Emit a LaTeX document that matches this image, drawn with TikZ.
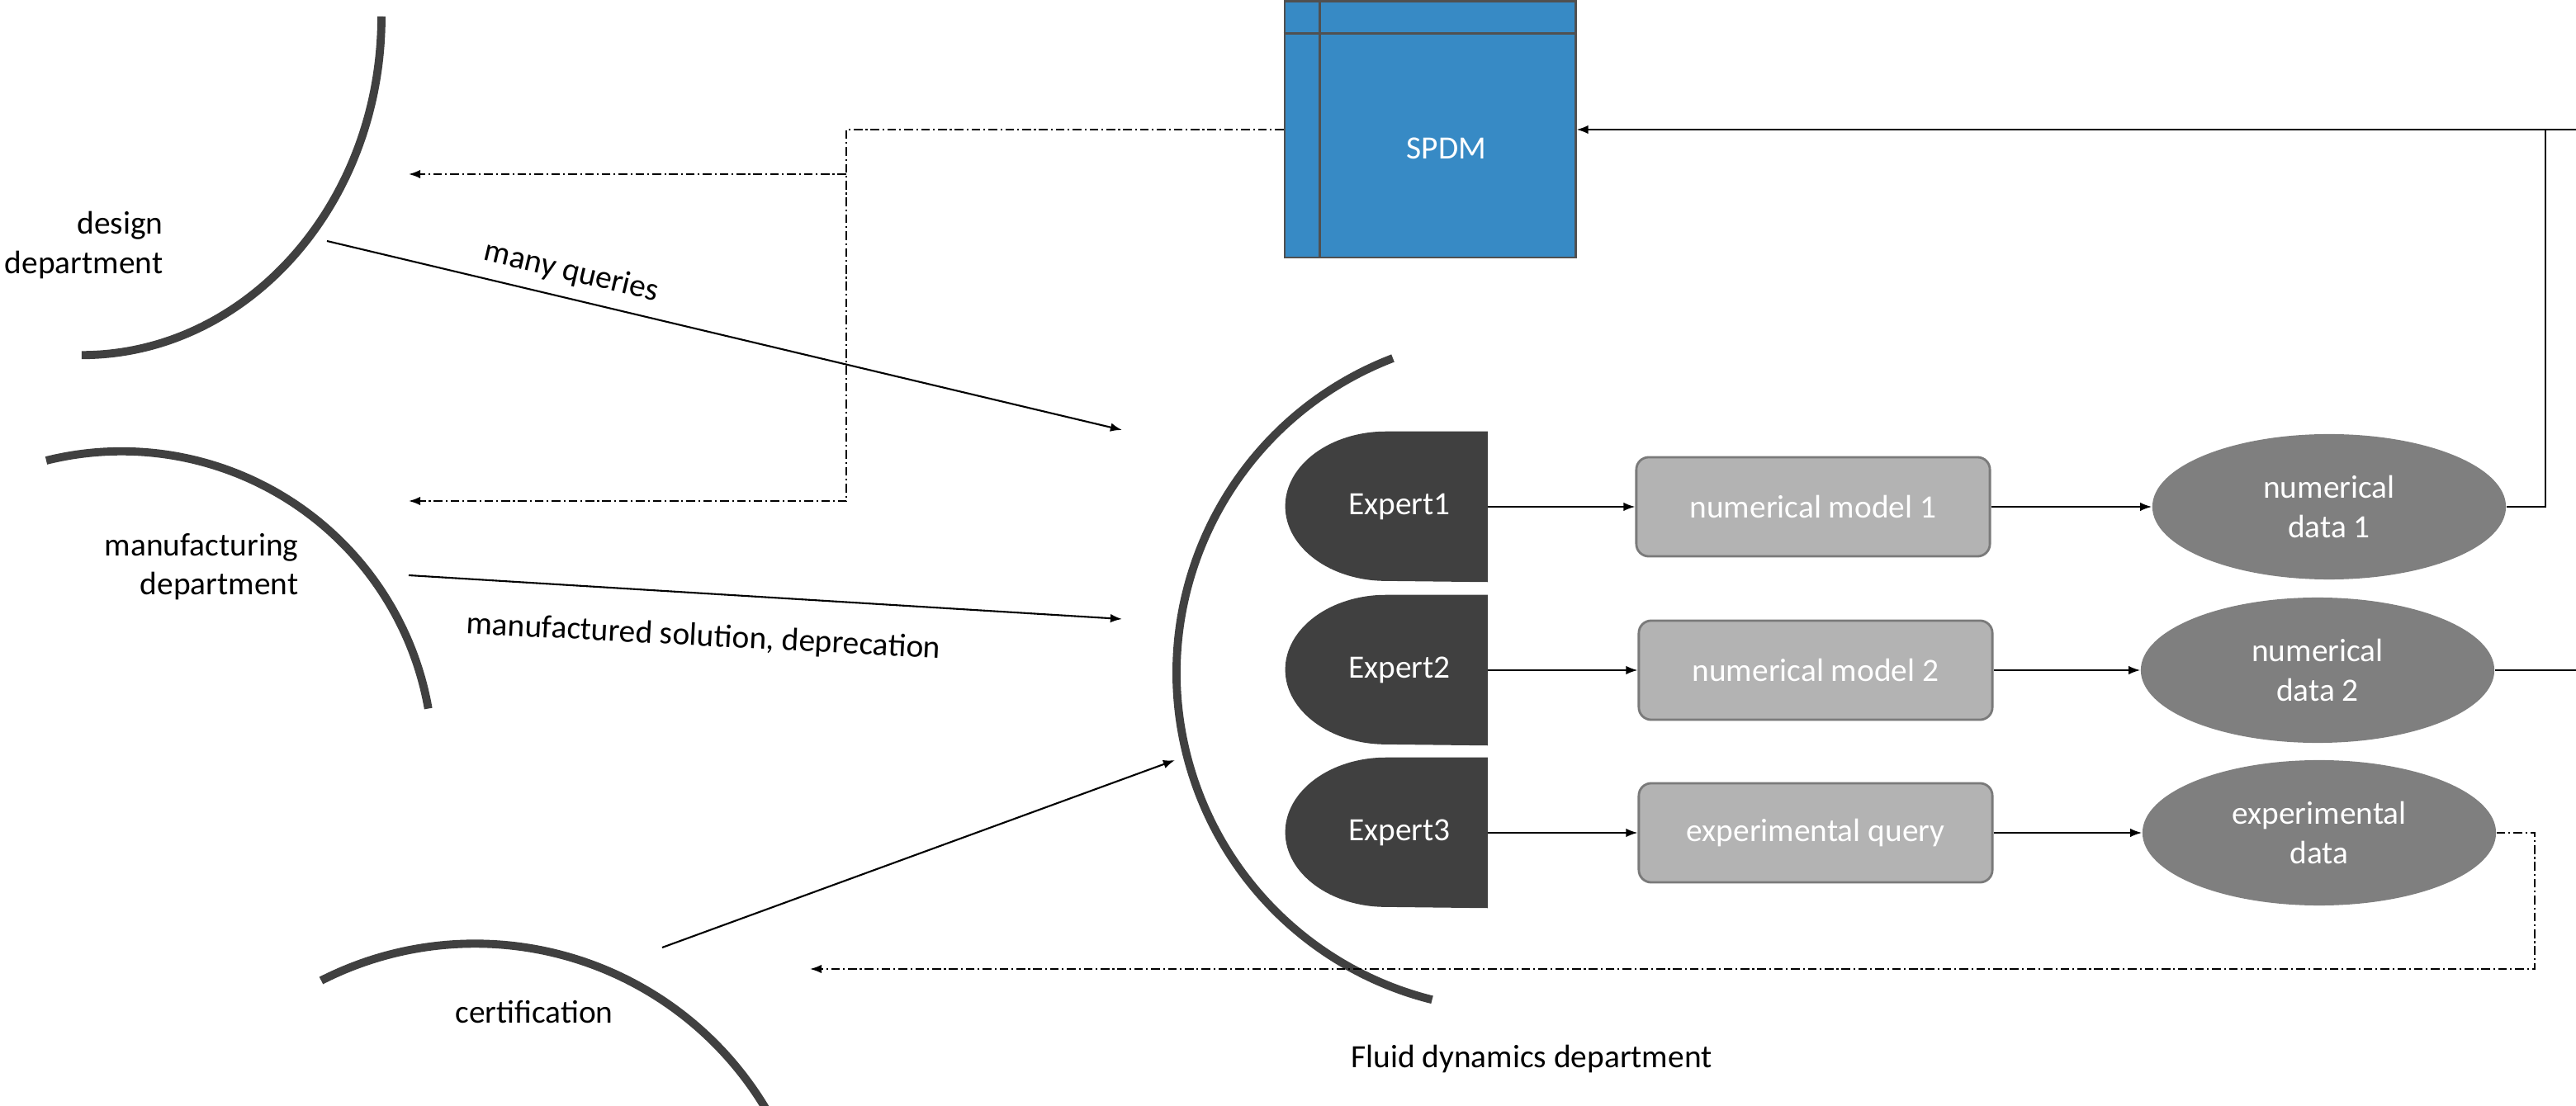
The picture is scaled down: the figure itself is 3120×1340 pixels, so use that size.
\documentclass[tikz,border=0pt]{standalone}
\usepackage{fontspec}
\setmainfont{Carlito}
\usetikzlibrary{arrows.meta,shapes.geometric,backgrounds}

\definecolor{spdmblue}{HTML}{378AC5}
\definecolor{spdmedge}{HTML}{505050}
\definecolor{darkgray}{HTML}{404040}
\definecolor{modelgray}{HTML}{B3B3B3}
\definecolor{modeledge}{HTML}{7A7A7A}
\definecolor{datagray}{HTML}{7F7F7F}

\begin{document}
\begin{tikzpicture}[x=0.01cm,y=-0.01cm,
  every node/.style={font=\fontsize{11.2}{13.4}\selectfont},
  arr/.style={-{Latex[length=4pt,width=3pt]}, line width=0.6pt},
  dashdot/.style={line width=0.6pt, dash pattern=on 3pt off 1.1pt on 0.6pt off 1.1pt},
  deptarc/.style={line width=2.8pt, draw=darkgray},
  expertnode/.style={rectangle, minimum width=2.12cm, minimum height=1.81cm, inner sep=0pt, text=white},
  modelbox/.style={rectangle, rounded corners=0.15cm, fill=modelgray, draw=modeledge, line width=0.8pt,
    minimum width=4.28cm, minimum height=1.2cm, inner sep=0pt, text=white},
  databox/.style={ellipse, fill=datagray, minimum width=4.28cm, minimum height=1.76cm, inner sep=0pt,
    text=white, align=center},
  lbl/.style={align=center, inner sep=0pt}]

\clip (0,0) rectangle (3120,1340);

% ---------- SPDM repository ----------
\node[rectangle, fill=spdmblue, draw=spdmedge, line width=0.8pt,
      minimum width=3.52cm, minimum height=3.10cm, inner sep=0pt] (spdm) at (1732,157) {};
\draw[spdmedge, line width=0.8pt] ([xshift=0.44cm]spdm.north west) -- ([xshift=0.44cm]spdm.south west);
\draw[spdmedge, line width=0.8pt] ([yshift=-0.40cm]spdm.north west) -- ([yshift=-0.40cm]spdm.north east);
\node[text=white, inner sep=0pt] (spdmlabel) at (1752,180) {SPDM};

% ---------- department arcs ----------
\draw[deptarc] (462,20) arc[start angle=0, end angle=-90, x radius=3.63cm, y radius=4.1cm];
\draw[deptarc] (56,558) arc[start angle=104, end angle=10, radius=3.77cm];
\draw[deptarc] (389,1188) arc[start angle=117, end angle=25, radius=4.10cm];
\draw[deptarc] (1687,434) arc[start angle=111, end angle=256, radius=4.08cm];

% ---------- department labels ----------
\node[lbl, align=right, anchor=east] (design) at (198,297) {design\\department};
\node[lbl, align=right, anchor=east] (manuf) at (362,687) {manufacturing\\department};
\node[lbl] (cert) at (647,1226) {certification};
\node[lbl] (fluid) at (1855,1283) {Fluid dynamics department};

% ---------- experts ----------
\node[expertnode] (e1) at (1695,614) {Expert1};
\node[expertnode] (e2) at (1695,812) {Expert2};
\node[expertnode] (e3) at (1695,1009) {Expert3};
\begin{scope}[on background layer]
  \foreach \e in {e1,e2,e3}{
    \fill[darkgray] (\e.north east) -- ++(-1.23cm,0)
      arc[start angle=90, end angle=270, x radius=1.22cm, y radius=0.905cm]
      -- (\e.south east) -- cycle;
  }
\end{scope}

% ---------- models ----------
\node[modelbox] (m1) at (2196,614) {numerical model 1};
\node[modelbox] (m2) at (2199,812) {numerical model 2};
\node[modelbox] (m3) at (2199,1009) {experimental query};

% ---------- data ----------
\node[databox] (d1) at (2821,614) {numerical\\data 1};
\node[databox] (d2) at (2807,812) {numerical\\data 2};
\node[databox] (d3) at (2809,1009) {experimental\\data};

% ---------- flow inside the department ----------
\foreach \i in {1,2,3}{
  \draw[arr] (e\i.east) -- (m\i.west);
  \draw[arr] (m\i.east) -- (d\i.west);
}

% ---------- feedback to SPDM ----------
\coordinate (edgeA) at (3140,812);
\coordinate (edgeB) at (3140,157);
\draw[arr] (d1.east) -- (3083,614) -- (3083,157) -- (spdm.east);
\draw[line width=0.6pt] (d2.east) -- (edgeA) -- (edgeB) -- (3083,157);

% ---------- SPDM distribution (dash-dot) ----------
\coordinate (toDesign) at (495,211);
\coordinate (toManuf) at (495,607);
\coordinate (split) at (1025,211);
\draw[dashdot, arr] (spdm.west) -| (1025,607) -- (toManuf);
\draw[dashdot, arr] (split) -- (toDesign);

% ---------- experimental data back to certification ----------
\coordinate (toCert) at (981,1174);
\draw[dashdot, arr] (d3.east) -- (3070,1009) -- (3070,1174) -- (toCert);

% ---------- requests into the department ----------
\coordinate (qs) at (396,292);
\coordinate (qe) at (1359,521);
\draw[arr] (qs) -- node[lbl, sloped, above=4pt, pos=0.3] (mq) {many queries} (qe);

\coordinate (ms) at (495,697);
\coordinate (me) at (1359,750);
\draw[arr] (ms) -- (me);
\node[lbl, rotate=-3] (mslabel) at (852,772) {manufactured solution, deprecation};

\coordinate (cs) at (802,1148);
\coordinate (ce) at (1423,921);
\draw[arr] (cs) -- (ce);

\end{tikzpicture}
\end{document}
